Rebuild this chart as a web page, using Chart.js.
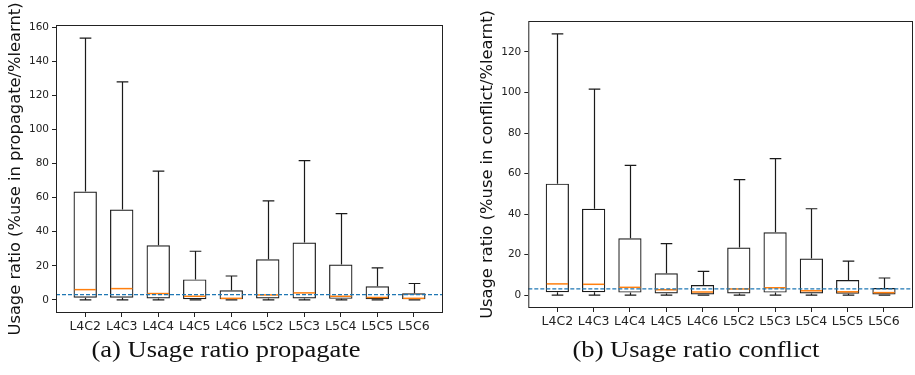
<!DOCTYPE html>
<html>
<head>
<meta charset="utf-8">
<script src="https://cdn.jsdelivr.net/npm/chart.js@4.4.1/dist/chart.umd.min.js"></script>
<style>
    html, body { margin: 0; padding: 0; background: #fff; }
    #wrap { position: relative; width: 915px; height: 375px; overflow: hidden; }
    .pane { position: absolute; top: 0; height: 375px; }
    .caption {
        position: absolute; top: 339px; font-family: "Liberation Serif", serif;
        font-size: 22.5px; line-height: 1; color: #111; white-space: nowrap;
        transform: translateX(-50%) scaleX(1.18); transform-origin: center;
    }
</style>
</head>
<body>
<div id="wrap">
    <div class="pane" style="left:0;width:460px"><canvas id="propChart" width="460" height="375"></canvas></div>
    <div class="pane" style="left:460px;width:455px"><canvas id="confChart" width="455" height="375"></canvas></div>
    <div class="caption" style="left:226px">(a) Usage ratio propagate</div>
    <div class="caption" style="left:696px">(b) Usage ratio conflict</div>
</div>
<script>
const categories = ["L4C2", "L4C3", "L4C4", "L4C5", "L4C6", "L5C2", "L5C3", "L5C4", "L5C5", "L5C6"];

// (a) propagate
const propWhiskLo = [0, 0, 0, 0, 0, 0, 0, 0, 0, 0];
const propQ1 = [1.3, 1.3, 0.8, 0.4, 0.4, 0.8, 0.8, 0.6, 0.4, 0.4];
const propMedian = [6.0, 6.6, 3.7, 2.1, 0.9, 2.9, 4.1, 2.1, 1.4, 0.9];
const propQ3 = [63.5, 53, 32, 12, 5.6, 23.8, 33.6, 20.7, 8, 3.9];
const propWhiskHi = [153.5, 127.8, 75.5, 28.5, 14, 58, 81.7, 50.6, 18.8, 9.6];
const propTicks = [0, 20, 40, 60, 80, 100, 120, 140, 160];
const propBaseline = 3.1;

// (b) conflict
const confWhiskLo = [0, 0, 0, 0, 0, 0, 0, 0, 0, 0];
const confQ1 = [1.4, 1.4, 1.2, 0.8, 0.3, 0.8, 1.2, 0.8, 0.6, 0.3];
const confMedian = [5.5, 5.3, 3.8, 2.6, 1.5, 3.0, 3.6, 2.1, 1.6, 1.2];
const confQ3 = [55, 42.6, 28, 10.7, 4.9, 23.5, 31, 18, 7.4, 3.5];
const confWhiskHi = [128.9, 101.7, 64, 25.4, 11.7, 57, 67.4, 42.6, 16.7, 8.4];
const confTicks = [0, 20, 40, 60, 80, 100, 120];
const confBaseline = 3.0;

const FONT = "'DejaVu Sans', sans-serif";
const X_PAD = 0.8;
const xMin = 1 - X_PAD;
const xMax = categories.length + X_PAD;

// whiskers, caps, medians, baseline and frame, placed with the chart's scales
const boxExtras = {
    id: "boxExtras",
    afterDatasetsDraw(chart, args, opts) {
        const { ctx, chartArea, scales: { x, y } } = chart;
        const s = opts.stats;
        const half = (x.getPixelForValue(2) - x.getPixelForValue(1)) * 0.64 / 2;
        ctx.save();
        ctx.lineWidth = 1.2;
        ctx.strokeStyle = "#1a1a1a";
        categories.forEach((c, i) => {
            const px = Math.round(x.getPixelForValue(i + 1)) + 0.5;
            const yHi = y.getPixelForValue(s.hi[i]);
            const yQ3 = y.getPixelForValue(s.q3[i]);
            const yQ1 = y.getPixelForValue(s.q1[i]);
            const yLo = y.getPixelForValue(s.lo[i]);
            ctx.beginPath();
            ctx.moveTo(px, yQ3); ctx.lineTo(px, yHi);
            ctx.moveTo(px, yQ1); ctx.lineTo(px, yLo);
            ctx.moveTo(px - half / 2, yHi); ctx.lineTo(px + half / 2, yHi);
            ctx.moveTo(px - half / 2, yLo); ctx.lineTo(px + half / 2, yLo);
            ctx.stroke();
        });
        ctx.strokeStyle = "#ff7f0e";
        ctx.lineWidth = 1.5;
        categories.forEach((c, i) => {
            const px = x.getPixelForValue(i + 1);
            const yMed = y.getPixelForValue(s.med[i]);
            ctx.beginPath();
            ctx.moveTo(px - half + 1, yMed); ctx.lineTo(px + half - 1, yMed);
            ctx.stroke();
        });
        const yb = y.getPixelForValue(opts.baseline);
        ctx.strokeStyle = "#1f77b4";
        ctx.lineWidth = 1.2;
        ctx.setLineDash([4, 2]);
        ctx.beginPath();
        ctx.moveTo(chartArea.left, yb); ctx.lineTo(chartArea.right, yb);
        ctx.stroke();
        ctx.setLineDash([]);
        ctx.strokeStyle = "#222";
        ctx.lineWidth = 1;
        ctx.strokeRect(chartArea.left + 0.5, chartArea.top + 0.5,
            chartArea.right - chartArea.left - 1, chartArea.bottom - chartArea.top - 1);
        ctx.restore();
    }
};

function renderBoxChart(canvasId, cfg) {
    const ctx = document.getElementById(canvasId);
    if (!ctx) return;

    const boxes = categories.map((c, i) => ({ x: i + 1, y: [cfg.q1[i], cfg.q3[i]] }));

    new Chart(ctx, {
        type: "bar",
        data: {
            datasets: [{
                data: boxes,
                backgroundColor: "rgba(0,0,0,0)",
                borderColor: "#1a1a1a",
                borderWidth: 1.2,
                borderSkipped: false,
                categoryPercentage: 1,
                barPercentage: 0.64
            }]
        },
        options: {
            responsive: false,
            animation: false,
            events: [],
            layout: { padding: cfg.padding },
            plugins: {
                legend: { display: false },
                tooltip: { enabled: false },
                boxExtras: { stats: { lo: cfg.lo, q1: cfg.q1, med: cfg.med, q3: cfg.q3, hi: cfg.hi }, baseline: cfg.baseline }
            },
            scales: {
                x: {
                    type: "linear",
                    offset: false,
                    min: xMin,
                    max: xMax,
                    afterBuildTicks: s => { s.ticks = categories.map((c, i) => ({ value: i + 1 })); },
                    afterFit: s => { s.height = cfg.xHeight; },
                    ticks: {
                        autoSkip: false,
                        maxRotation: 0,
                        padding: 2,
                        color: "#222",
                        font: { family: FONT, size: 12.5 },
                        callback: (v) => categories[Math.round(v) - 1]
                    },
                    grid: { offset: false, drawOnChartArea: false, tickLength: 4, color: "#222" },
                    border: { display: false }
                },
                y: {
                    type: "linear",
                    min: cfg.yMin,
                    max: cfg.yMax,
                    afterBuildTicks: s => { s.ticks = cfg.ticks.map(v => ({ value: v })); },
                    afterFit: s => { s.width = cfg.yWidth; },
                    ticks: {
                        padding: 3,
                        color: "#222",
                        font: { family: FONT, size: 10.5 }
                    },
                    grid: { drawOnChartArea: false, tickLength: 4, color: "#222" },
                    border: { display: false },
                    title: {
                        display: true,
                        text: cfg.yTitle,
                        color: "#111",
                        font: { family: FONT, size: 16.3 },
                        padding: { top: 0, bottom: 0 }
                    }
                }
            }
        },
        plugins: [boxExtras]
    });
}

renderBoxChart("propChart", {
    lo: propWhiskLo, q1: propQ1, med: propMedian, q3: propQ3, hi: propWhiskHi,
    ticks: propTicks, baseline: propBaseline,
    yMin: -7.7, yMax: 161.2,
    yTitle: "Usage ratio (%use in propagate/%learnt)",
    padding: { left: 6, right: 17, top: 25, bottom: 0 },
    yWidth: 50, xHeight: 62
});

renderBoxChart("confChart", {
    lo: confWhiskLo, q1: confQ1, med: confMedian, q3: confQ3, hi: confWhiskHi,
    ticks: confTicks, baseline: confBaseline,
    yMin: -6.4, yMax: 135.3,
    yTitle: "Usage ratio (%use in conflict/%learnt)",
    padding: { left: 18, right: 2, top: 21, bottom: 0 },
    yWidth: 50.3, xHeight: 67
});
</script>
</body>
</html>
